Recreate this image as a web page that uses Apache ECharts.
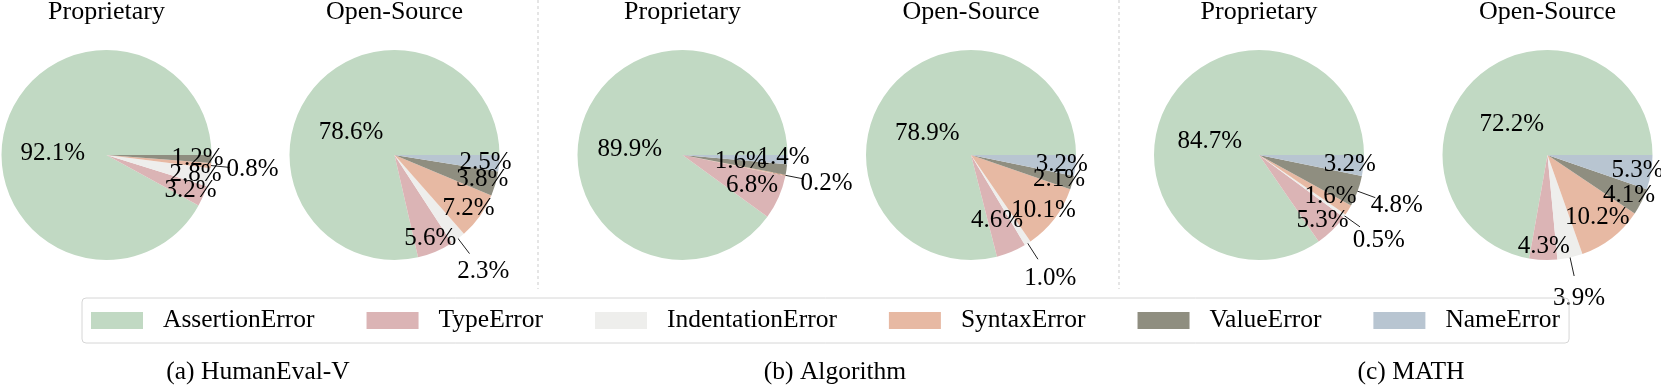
<!DOCTYPE html>
<html>
<head>
<meta charset="UTF-8">
<title>Error type distribution</title>
<script src="https://cdn.jsdelivr.net/npm/echarts@6/dist/echarts.min.js"></script>
<style>
    html, body { margin: 0; padding: 0; background: #fff; }
    #main { width: 1661px; height: 388px; }
</style>
</head>
<body>
<div id="main"></div>
<script>
var errorTypes = ['AssertionError', 'TypeError', 'IndentationError', 'SyntaxError', 'ValueError', 'NameError'];
var groups = ['Proprietary', 'Open-Source'];
var benchmarks = ['(a) HumanEval-V', '(b) Algorithm', '(c) MATH'];

// share of each error type (%), same order as errorTypes
var humanevalProp = [92.1, 3.2, 2.8, 0.8, 1.2, 0];
var humanevalOpen = [78.6, 5.6, 2.3, 7.2, 3.8, 2.5];
var algorithmProp = [89.9, 6.8, 0, 0.2, 1.6, 1.4];
var algorithmOpen = [78.9, 4.6, 1.0, 10.1, 2.1, 3.2];
var mathProp = [84.7, 5.3, 0.5, 1.6, 4.8, 3.2];
var mathOpen = [72.2, 4.3, 3.9, 10.2, 4.1, 5.3];

var colors = ['#c1d9c3', '#dbb4b5', '#eeeeec', '#e7b9a3', '#8f8e80', '#b8c5d1'];

var pies = [humanevalProp, humanevalOpen, algorithmProp, algorithmOpen, mathProp, mathOpen];
// labels drawn outside with a leader line
var pulledOut = [['SyntaxError'], ['IndentationError'], ['SyntaxError'], ['IndentationError'],
                 ['IndentationError', 'ValueError'], ['IndentationError']];
// hand nudges of a few inner labels (px)
var labelShift = [{}, {}, {TypeError: [-14, -6], ValueError: [-32, -6], NameError: [10, -2]},
                  {TypeError: [-9, -19]}, {SyntaxError: [-6, -6]}, {SyntaxError: [-6, -10]}];

var FONT = '"Liberation Serif", "Times New Roman", serif';
var R = 105, CY = 155;
var centersX = [106.5, 394.5, 682.5, 971, 1259, 1547.5];

function pct(p) { return p.value.toFixed(1) + '%'; }

var series = [];
var helpers = [];
var graphics = [];

pies.forEach(function (vals, i) {
    var cx = centersX[i];
    var out = pulledOut[i];
    function items(pick, withColor) {
        return errorTypes.map(function (name, k) {
            var show = vals[k] > 0 && pick(k, name);
            var d = {name: name, value: vals[k], label: {show: show}, labelLine: {show: show}};
            if (withColor) d.itemStyle = {color: colors[k]};
            else if (labelShift[i][name]) d.label.offset = labelShift[i][name];
            return d;
        });
    }
    // the pie itself, big slice labelled
    series.push({
        type: 'pie', center: [cx, CY], radius: [0, R],
        startAngle: 0, clockwise: false, avoidLabelOverlap: false,
        labelLayout: {hideOverlap: false},
        itemStyle: {borderWidth: 0},
        label: {position: 'inside', formatter: pct, offset: [0, 12],
                fontSize: 25, fontFamily: FONT, color: '#000'},
        labelLine: {show: false},
        emphasis: {disabled: true},
        data: items(function (k) { return k === 0; }, true)
    });
    var base = {
        type: 'pie', center: [cx, CY], startAngle: 0, clockwise: false,
        avoidLabelOverlap: false, silent: true, legendHoverLink: false,
        labelLayout: {hideOverlap: false},
        itemStyle: {color: 'transparent', borderWidth: 0},
        emphasis: {disabled: true}
    };
    // labels of the small slices, inside
    helpers.push(Object.assign({}, base, {
        radius: [0, 2 * 0.84 * R],
        label: {position: 'inside', formatter: pct, fontSize: 25, fontFamily: FONT, color: '#000'},
        labelLine: {show: false},
        data: items(function (k, n) { return k > 0 && out.indexOf(n) < 0; })
    }));
    // pulled-out labels
    helpers.push(Object.assign({}, base, {
        radius: [0, 2 * 1.37 * R],
        label: {position: 'inside', formatter: pct, fontSize: 25, fontFamily: FONT, color: '#000'},
        labelLine: {show: false},
        data: items(function (k, n) { return out.indexOf(n) >= 0; })
    }));
    // leader lines
    helpers.push(Object.assign({}, base, {
        radius: [0, 0.88 * R],
        label: {position: 'outside', formatter: ' ', fontSize: 10},
        labelLine: {length: 0.3 * R, length2: 0, lineStyle: {color: '#222', width: 1}},
        data: items(function (k, n) { return out.indexOf(n) >= 0; })
    }));

    graphics.push({
        type: 'text', x: cx, y: 12,
        style: {text: groups[i % 2], font: '26px ' + FONT, fill: '#000',
                textAlign: 'center', verticalAlign: 'middle', textVerticalAlign: 'middle'}
    });
});

var captionX = [258, 835, 1411];
benchmarks.forEach(function (b, j) {
    graphics.push({
        type: 'text', x: captionX[j], y: 372,
        style: {text: b, font: '25.5px ' + FONT, fill: '#000',
                textAlign: 'center', verticalAlign: 'middle', textVerticalAlign: 'middle'}
    });
});

[538, 1119].forEach(function (x) {
    graphics.push({
        type: 'line', shape: {x1: x, y1: 0, x2: x, y2: 289},
        style: {stroke: '#cccccc', lineWidth: 1, lineDash: [3, 3]}
    });
});

var chart = echarts.init(document.getElementById('main'));
chart.setOption({
    animation: false,
    legend: {
        data: errorTypes,
        left: 82, top: 298,
        padding: [9.5, 9],
        itemWidth: 52, itemHeight: 17, itemGap: 52,
        icon: 'rect',
        borderColor: '#d6d6d6', borderWidth: 1, borderRadius: 4,
        selectedMode: false,
        textStyle: {fontSize: 25.5, fontFamily: FONT, color: '#000', padding: [0, 0, 0, 15]}
    },
    graphic: graphics,
    series: series.concat(helpers)
});
</script>
</body>
</html>
